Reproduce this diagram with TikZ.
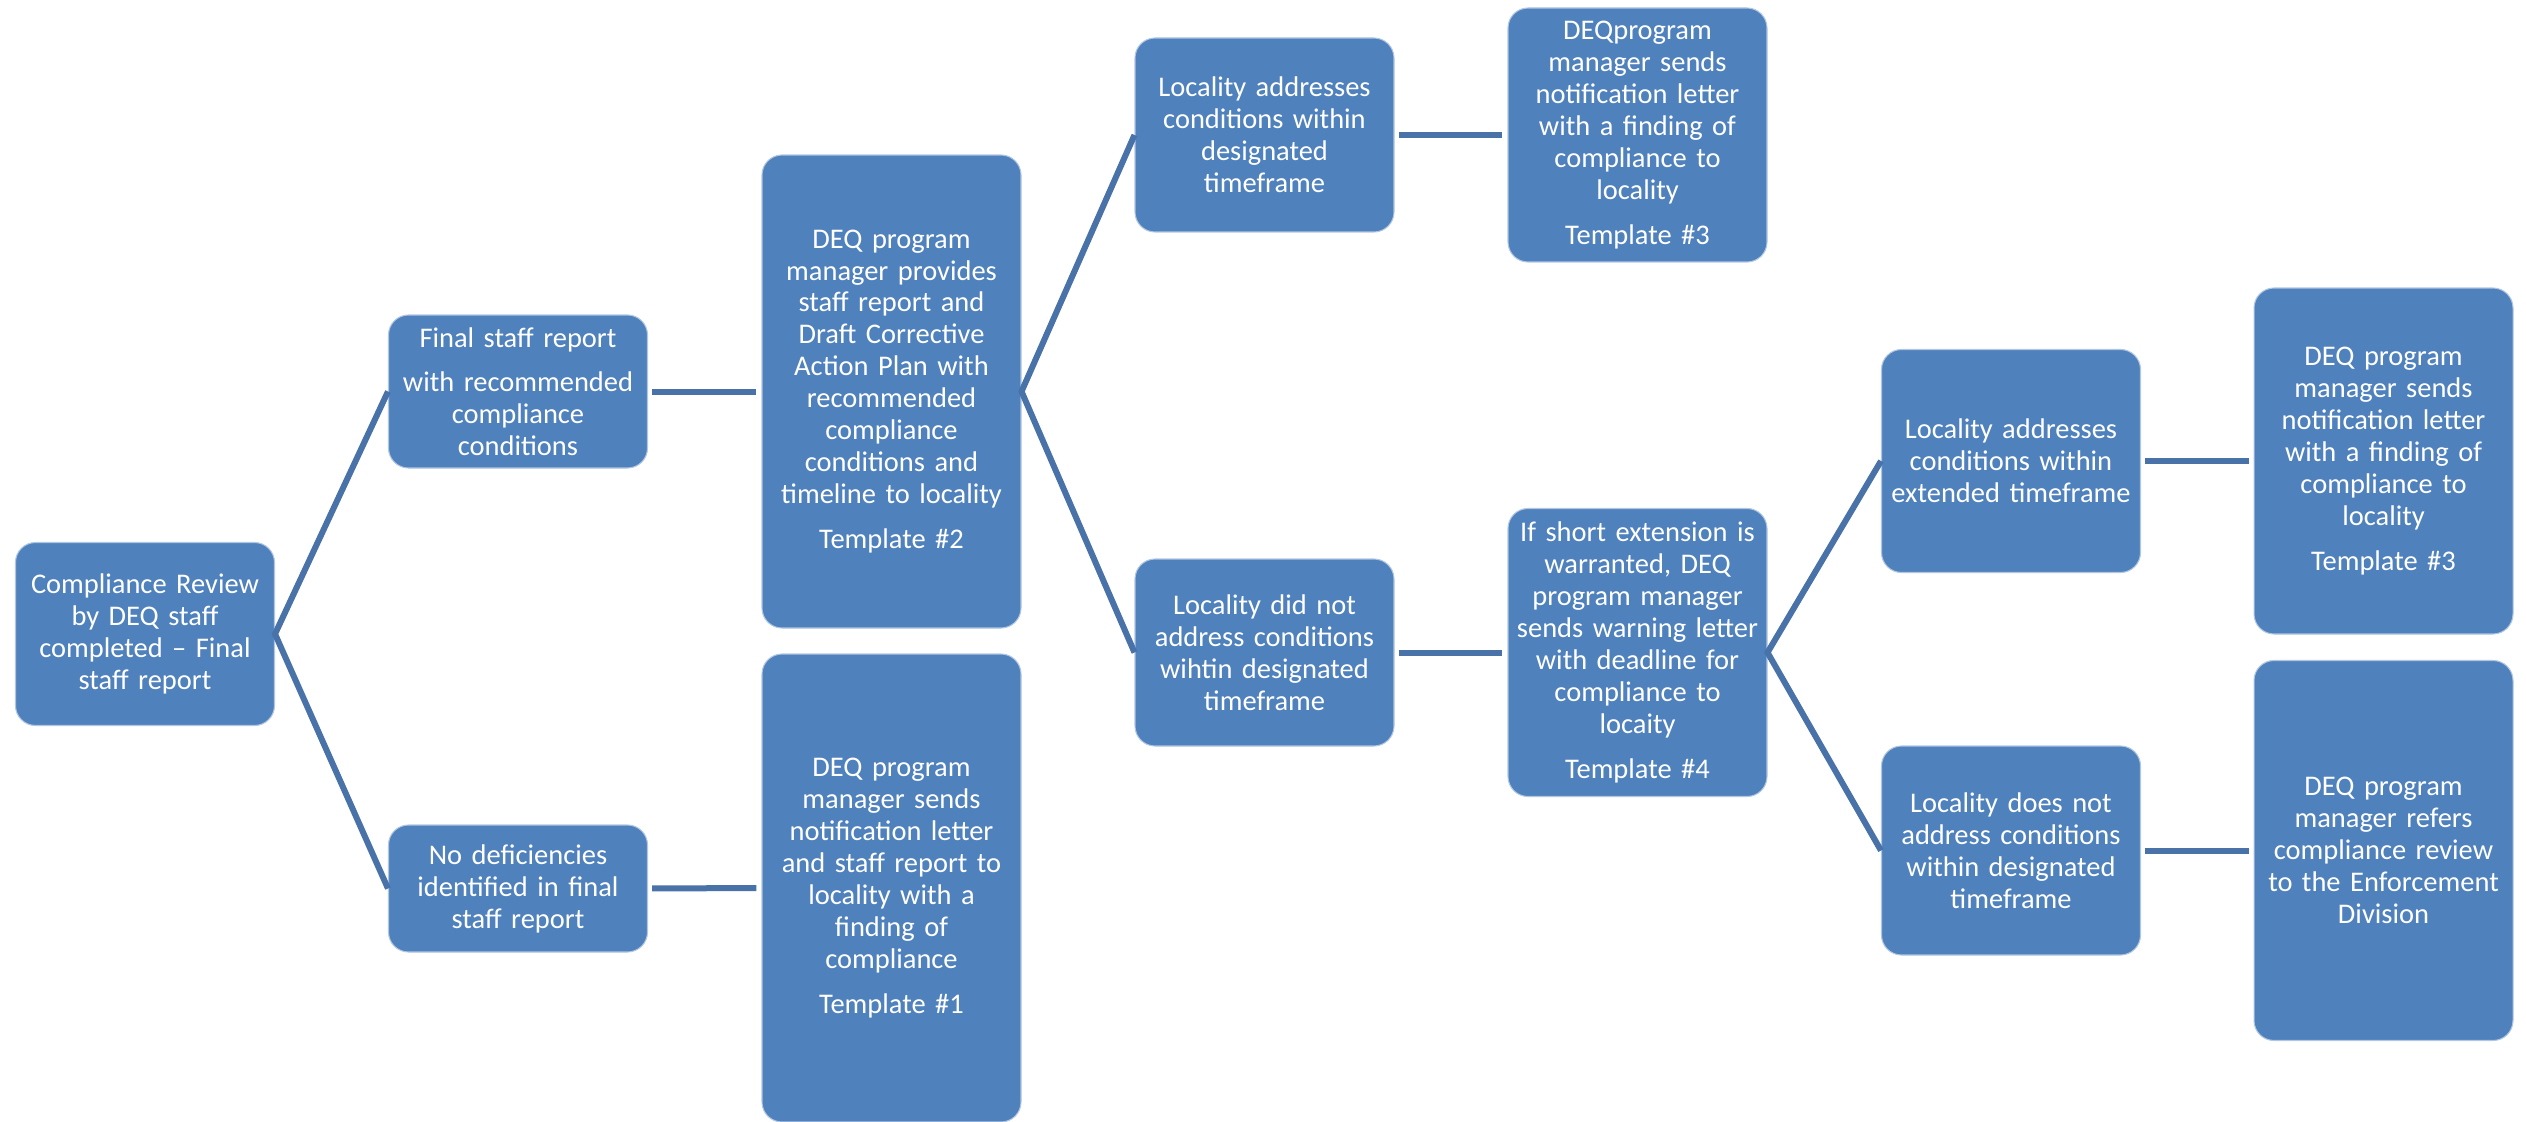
\documentclass[tikz,border=0pt]{standalone}
\usepackage{fontspec}
\setmainfont{Carlito}
\usepackage{tikz}
\usetikzlibrary{positioning}
\definecolor{deqblue}{HTML}{4F81BD}
\definecolor{linkblue}{HTML}{4872A8}

\begin{document}
\begin{tikzpicture}[
    x=0.1mm, y=-0.1mm,
    stage/.style = {rectangle, rounded corners=2mm, fill=deqblue, draw=white!55!deqblue,
                    line width=0.3pt, text=white, minimum width=25.9mm,
                    text width=25.6mm, align=center, inner sep=0pt,
                    font=\fontsize{8.1pt}{9.1pt}\selectfont},
    link/.style  = {draw=linkblue, line width=0.6mm},
    gapped/.style = {link, shorten <=0.4mm, shorten >=0.5mm}
  ]
  \useasboundingbox (0,0) rectangle (2526,1122);

  % ── Column 1: start ─────────────────────────────────────────────────────
  \node[stage, minimum height=18.3mm] (review) at (145, 634)
    {Compliance Review\\by DEQ staff\\completed – Final\\staff report};

  % ── Column 2: staff report outcome ──────────────────────────────────────
  \node[stage, minimum height=15.3mm] (finalrpt) at (518, 391.5)
    {Final staff report\\[1.2mm]with recommended\\compliance\\conditions};
  \node[stage, minimum height=12.7mm] (nodefic) at (518, 888.5)
    {No deficiencies\\identified in final\\staff report};

  % ── Column 3: program manager letters ───────────────────────────────────
  \node[stage, minimum height=47.3mm] (draftcap) at (891.5, 391.5)
    {DEQ program\\manager provides\\staff report and\\Draft Corrective\\Action Plan with\\recommended\\compliance\\conditions and\\timeline to locality\\[1.3mm]Template \#2};
  \node[stage, minimum height=46.8mm] (notifone) at (891.5, 888)
    {DEQ program\\manager sends\\notification letter\\and staff report to\\locality with a\\finding of\\compliance\\[1.3mm]Template \#1};

  % ── Column 4: locality response ─────────────────────────────────────────
  \node[stage, minimum height=19.4mm] (addressed) at (1264.5, 135)
    {Locality addresses\\conditions within\\designated\\timeframe};
  \node[stage, minimum height=18.7mm] (notaddr) at (1264.5, 652.5)
    {Locality did not\\address conditions\\wihtin designated\\timeframe};

  % ── Column 5: compliance / warning letter ───────────────────────────────
  \node[stage, minimum height=25.4mm] (notifthree) at (1637.5, 135)
    {DEQprogram\\manager sends\\notification letter\\with a finding of\\compliance to\\locality\\[1.3mm]Template \#3};
  \node[stage, minimum height=28.8mm] (warning) at (1637.5, 652.5)
    {If short extension is\\warranted, DEQ\\program manager\\sends warning letter\\with deadline for\\compliance to\\locaity\\[1.3mm]Template \#4};

  % ── Column 6: response after extension ──────────────────────────────────
  \node[stage, minimum height=22.3mm] (extaddr) at (2011, 461)
    {Locality addresses\\conditions within\\extended timeframe};
  \node[stage, minimum height=20.9mm] (extmiss) at (2011, 850.5)
    {Locality does not\\address conditions\\within designated\\timeframe};

  % ── Column 7: final outcome ─────────────────────────────────────────────
  \node[stage, minimum height=34.6mm] (notiffinal) at (2383.5, 461)
    {DEQ program\\manager sends\\notification letter\\with a finding of\\compliance to\\locality\\[1.3mm]Template \#3};
  \node[stage, minimum height=38mm] (enforce) at (2383.5, 850.5)
    {DEQ program\\manager refers\\compliance review\\to the Enforcement\\Division};

  % ── Connectors ──────────────────────────────────────────────────────────
  \draw[link] (finalrpt.west) -- (review.east) -- (nodefic.west);
  \draw[gapped] (finalrpt.east) -- (draftcap.west);
  \draw[gapped] (nodefic.east) -- (notifone.west);
  \draw[link] (addressed.west) -- (draftcap.east) -- (notaddr.west);
  \draw[gapped] (addressed.east) -- (notifthree.west);
  \draw[gapped] (notaddr.east) -- (warning.west);
  \draw[link] (extaddr.west) -- (warning.east) -- (extmiss.west);
  \draw[gapped] (extaddr.east) -- (notiffinal.west);
  \draw[gapped] (extmiss.east) -- (enforce.west);
\end{tikzpicture}
\end{document}
